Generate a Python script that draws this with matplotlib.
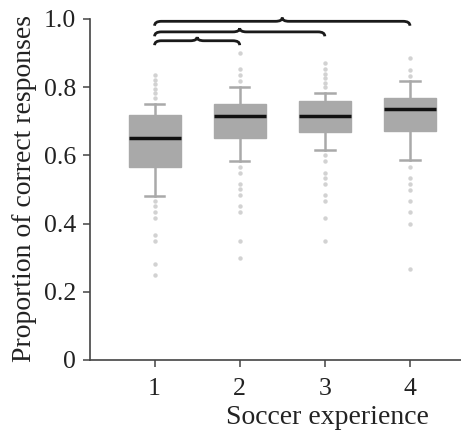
import numpy as np
import matplotlib
matplotlib.use("Agg")
import matplotlib.pyplot as plt
from matplotlib.path import Path
from matplotlib.patches import PathPatch

plt.rcParams['font.family'] = ['Liberation Serif', 'DejaVu Serif']

# values
groups = [1, 2, 3, 4]
q1 = [0.567, 0.650, 0.667, 0.672]
medians = [0.650, 0.716, 0.716, 0.735]
q3 = [0.718, 0.751, 0.760, 0.767]
whis_lo = [0.482, 0.583, 0.616, 0.587]
whis_hi = [0.750, 0.801, 0.784, 0.818]
fliers = [
    [0.836, 0.821, 0.809, 0.795, 0.782, 0.767,
     0.466, 0.450, 0.433, 0.416, 0.366, 0.350, 0.282, 0.248],
    [0.901, 0.852, 0.836, 0.818,
     0.567, 0.549, 0.517, 0.500, 0.483, 0.450, 0.433, 0.350, 0.299],
    [0.870, 0.853, 0.839, 0.826, 0.813, 0.800,
     0.600, 0.584, 0.549, 0.533, 0.517, 0.484, 0.467, 0.416, 0.349],
    [0.884, 0.850, 0.834,
     0.567, 0.533, 0.517, 0.499, 0.467, 0.433, 0.399, 0.266],
]
# brackets: (from group, to group, level)
brackets = [(1, 2, 0.936), (1, 3, 0.962), (1, 4, 0.993)]

yticks = [0, 0.2, 0.4, 0.6, 0.8, 1.0]
ytick_labels = ['0', '0.2', '0.4', '0.6', '0.8', '1.0']


def brace(ax, x1, x2, y, h=0.013, tip=0.011):
    # horizontal curly brace opening downward
    xm = (x1 + x2) / 2
    d = 0.08
    verts = [(x1, y - h), (x1, y), (x1 + d, y),
             (xm - d, y),
             (xm, y), (xm, y + tip),
             (xm, y), (xm + d, y),
             (x2 - d, y),
             (x2, y), (x2, y - h)]
    codes = [Path.MOVETO, Path.CURVE3, Path.CURVE3,
             Path.LINETO,
             Path.CURVE3, Path.CURVE3,
             Path.CURVE3, Path.CURVE3,
             Path.LINETO,
             Path.CURVE3, Path.CURVE3]
    ax.add_patch(PathPatch(Path(verts, codes), fill=False, color='#1a1a1a',
                           lw=2.0, clip_on=False))


fig = plt.figure(figsize=(4.61, 4.30), dpi=100)
ax = fig.add_axes([0.195, 0.163, 0.805, 0.793])

stats = []
for i in range(len(groups)):
    stats.append(dict(med=medians[i], q1=q1[i], q3=q3[i],
                      whislo=whis_lo[i], whishi=whis_hi[i],
                      fliers=fliers[i]))

box_c = '#a9a9a9'
ax.bxp(stats, positions=groups, widths=0.61, patch_artist=True,
       boxprops=dict(facecolor=box_c, edgecolor=box_c, lw=1),
       medianprops=dict(color='#111111', lw=2.5),
       whiskerprops=dict(color=box_c, lw=1.8),
       capprops=dict(color=box_c, lw=1.8),
       capwidths=0.23,
       flierprops=dict(marker='o', markersize=3.2, markerfacecolor='#d2d2d2',
                       markeredgecolor='none'))

for a, b, lev in brackets:
    brace(ax, a, b, lev)

ax.set_xlim(0.24, 4.6)
ax.set_ylim(0, 1.0)
ax.set_yticks(yticks)
ax.set_yticklabels(ytick_labels)
ax.set_xticks(groups)
ax.set_xticklabels([str(g) for g in groups])

for s in ['top', 'right']:
    ax.spines[s].set_visible(False)
for s in ['left', 'bottom']:
    ax.spines[s].set_color('#444444')
    ax.spines[s].set_linewidth(1.2)
ax.tick_params(direction='out', length=5, width=1.1, color='#444444',
               labelsize=18.5, colors='#222222')
ax.tick_params(axis='x', pad=8)
ax.tick_params(axis='y', pad=5)

ax.set_ylabel('Proportion of correct responses', fontsize=20, color='#222222',
              va='center')
ax.yaxis.set_label_coords(-0.175, 0.503)
ax.set_xlabel('Soccer experience', fontsize=20, color='#222222', va='center')
ax.xaxis.set_label_coords(0.64, -0.168)

fig.savefig('out.png', dpi=100)
